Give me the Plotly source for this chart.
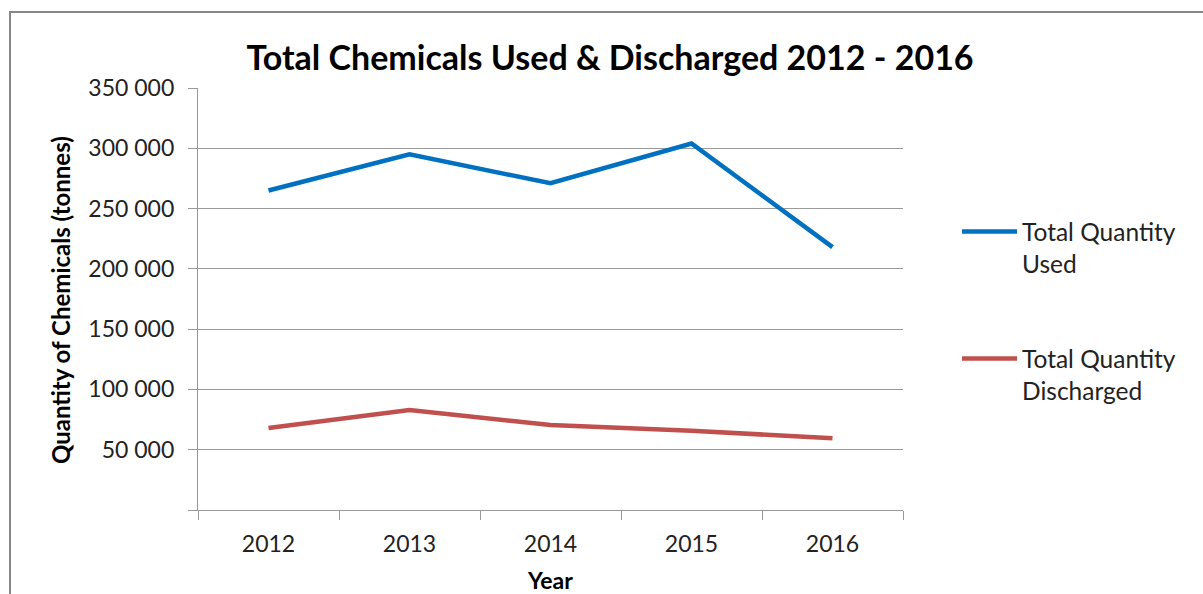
import plotly.graph_objects as go

years = ["2012", "2013", "2014", "2015", "2016"]
used = [265000, 295000, 271000, 304000, 218000]
discharged = [68000, 83000, 70500, 65700, 59500]
y_tickvals = [0, 50000, 100000, 150000, 200000, 250000, 300000, 350000]
y_ticktext = ["", "50 000", "100 000", "150 000", "200 000", "250 000", "300 000", "350 000"]

W, H = 1203, 594
L, R, T, B = 198, 903, 88, 510
pw, ph = R - L, B - T

def px(x):
    return (x - L) / pw

def py(y):
    return (B - y) / ph

FONT = "Lato"
GRAY = "#9a9a9a"
LEGFONT = dict(size=24.5, family=FONT, color="#222")

fig = go.Figure()
fig.add_trace(go.Scatter(x=years, y=used, mode="lines", name="Total Quantity<br>Used",
                         line=dict(color="#0070C0", width=4.5), legend="legend"))
fig.add_trace(go.Scatter(x=years, y=discharged, mode="lines", name="Total Quantity<br>Discharged",
                         line=dict(color="#C0504D", width=4.5), legend="legend2"))

fig.update_layout(
    width=W, height=H,
    margin=dict(l=L, r=W - R, t=T, b=H - B, autoexpand=False),
    paper_bgcolor="white", plot_bgcolor="white",
    font=dict(family=FONT, color="#1a1a1a"),
    title=dict(text="<b>Total Chemicals Used & Discharged 2012 - 2016</b>",
               x=px(610), xref="paper", xanchor="center",
               y=1 - 58 / H, yref="container", yanchor="middle",
               font=dict(size=34, family=FONT, color="#000000")),
    xaxis=dict(type="category", tickson="boundaries", ticks="outside", ticklen=9,
               tickcolor=GRAY, tickwidth=1.3, showline=True, linecolor=GRAY, linewidth=1.3,
               showgrid=False, tickfont=dict(size=23, family=FONT, color="#222"),
               ticklabelstandoff=13, range=[-0.5, 4.5]),
    yaxis=dict(range=[0, 350000], tickvals=y_tickvals, ticktext=y_ticktext,
               ticks="outside", ticklen=9, tickcolor=GRAY, tickwidth=1.3,
               showline=True, linecolor=GRAY, linewidth=1.3,
               showgrid=True, gridcolor=GRAY, gridwidth=1.3, zeroline=False,
               tickfont=dict(size=23, family=FONT, color="#222"), ticklabelstandoff=9),
    showlegend=True,
    legend=dict(x=px(957), y=py(209), xanchor="left", yanchor="top", valign="top",
                itemwidth=55, font=LEGFONT, bgcolor="rgba(0,0,0,0)", borderwidth=0),
    legend2=dict(x=px(957), y=py(336), xanchor="left", yanchor="top", valign="top",
                 itemwidth=55, font=LEGFONT, bgcolor="rgba(0,0,0,0)", borderwidth=0),
    annotations=[
        dict(text="<b>Quantity of Chemicals (tonnes)</b>", textangle=-90,
             x=px(60), y=py(300), xref="paper", yref="paper",
             xanchor="center", yanchor="middle", showarrow=False,
             font=dict(size=24, family=FONT, color="#000")),
        dict(text="<b>Year</b>", x=px(550), y=py(580), xref="paper", yref="paper",
             xanchor="center", yanchor="middle", showarrow=False,
             font=dict(size=23, family=FONT, color="#000")),
    ],
    shapes=[
        dict(type="rect", xref="paper", yref="paper",
             x0=px(10), x1=px(1215), y0=py(610), y1=py(12),
             line=dict(color="#868686", width=2), fillcolor="rgba(0,0,0,0)", layer="below"),
    ],
)

fig.write_html("out.html")
